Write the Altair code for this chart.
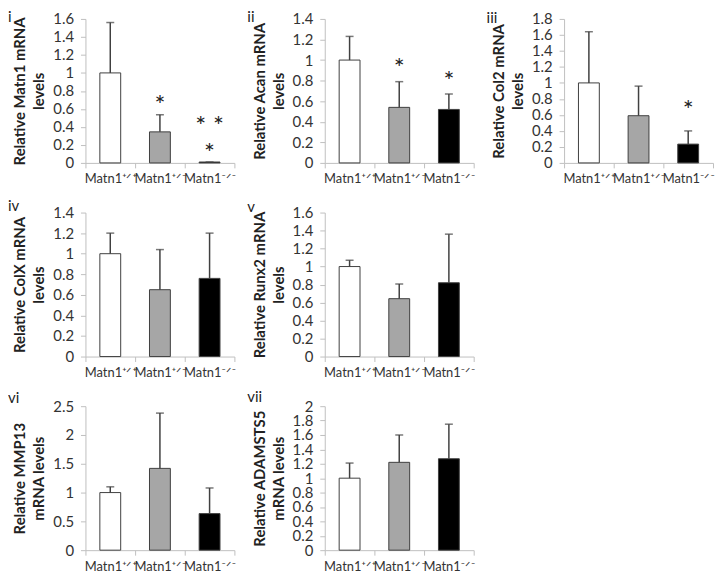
import altair as alt
import pandas as pd

# ---------------- data ----------------
genotypes = ["Matn1\u207a\u141f\u207a", "Matn1\u207a\u141f\u207b", "Matn1\u207b\u141f\u207b"]
bar_colors = ["#ffffff", "#a6a6a6", "#000000"]

panel_ids = ["i", "ii", "iii", "iv", "v", "vi", "vii"]
y_titles = [
    ["Relative Matn1 mRNA", "levels"],
    ["Relative Acan mRNA", "levels"],
    ["Relative Col2 mRNA", "levels"],
    ["Relative ColX mRNA", "levels"],
    ["Relative Runx2 mRNA", "levels"],
    ["Relative MMP13", "mRNA levels"],
    ["Relative ADAMSTS5", "mRNA levels"],
]

matn1_mean = [1.0, 0.345, 0.01]
matn1_err = [0.56, 0.19, 0.0]
acan_mean = [1.0, 0.54, 0.52]
acan_err = [0.23, 0.25, 0.15]
col2_mean = [1.0, 0.59, 0.235]
col2_err = [0.64, 0.37, 0.165]
colx_mean = [1.0, 0.65, 0.76]
colx_err = [0.20, 0.39, 0.44]
runx2_mean = [1.0, 0.643, 0.82]
runx2_err = [0.07, 0.163, 0.54]
mmp13_mean = [1.0, 1.42, 0.635]
mmp13_err = [0.10, 0.96, 0.445]
adamts5_mean = [1.0, 1.22, 1.27]
adamts5_err = [0.21, 0.38, 0.48]

y_max = [1.6, 1.4, 1.8, 1.4, 1.6, 2.5, 2.0]
y_step = [0.2, 0.2, 0.2, 0.2, 0.2, 0.5, 0.2]

# significance marks: (genotype index, value position, text)
stars_i = [(1, 0.70, "*"), (2, 0.47, "* *"), (2, 0.17, "*")]
stars_ii = [(1, 0.97, "*"), (2, 0.84, "*")]
stars_iii = [(2, 0.72, "*")]
stars_none = []

# roman-numeral label placement relative to each panel's plot corner (styling)
label_dx = [-78, -78, -78, -78, -78, -78, -78]
label_dy = [-2, -2, -1, -7, -6, -8, -9]

FONT = "Lato"
AX_COLOR = "#bfbfbf"
DARK = "#404040"


def panel(k, means, errs, stars):
    ymax, ystep = y_max[k], y_step[k]
    df = pd.DataFrame({
        "g": genotypes,
        "val": means,
        "top": [m + e for m, e in zip(means, errs)],
        "color": bar_colors,
    })
    n = int(round(ymax / ystep))
    ticks = [round(j * ystep, 2) for j in range(n + 1)]
    xaxis = alt.Axis(title=None, labelAngle=0, tickBand="extent", tickSize=5,
                     labelPadding=5, labelFontSize=13, labelFont=FONT,
                     labelColor="#333333", domainColor=AX_COLOR, tickColor=AX_COLOR,
                     labelOverlap=False)
    xscale = alt.Scale(paddingInner=0, paddingOuter=0)
    yscale = alt.Scale(domain=[0, ymax], nice=False)
    yaxis = alt.Axis(values=ticks, format=".1~f", title=y_titles[k], grid=False,
                     tickSize=5, labelPadding=7, labelFontSize=15, labelFont=FONT,
                     labelColor="#333333", domainColor=AX_COLOR, tickColor=AX_COLOR,
                     labelOverlap=False, labelSeparation=0, labelBound=False,
                     titleFont=FONT, titleFontSize=15, titleFontWeight="bold",
                     titleColor="#222222", titlePadding=5, titleLineHeight=19,
                     minExtent=34, maxExtent=34)

    def X():
        return alt.X("g:N", sort=genotypes, scale=xscale, axis=xaxis)

    def Y(field):
        return alt.Y(field, type="quantitative", scale=yscale, axis=yaxis, title=y_titles[k])

    base = alt.Chart(df)
    bars = base.mark_bar(width=alt.RelativeBandSize(0.42), stroke=DARK, strokeWidth=1).encode(
        x=X(), y=Y("val"), fill=alt.Fill("color:N", scale=None))
    rule = base.mark_rule(color=DARK, strokeWidth=1.5).encode(
        x=X(), y=Y("val"), y2="top:Q")
    cap = base.mark_tick(color=DARK, size=8, thickness=1.5, orient="horizontal").encode(
        x=X(), y=Y("top"))
    layers = [bars, rule, cap]
    if stars:
        sdf = pd.DataFrame({
            "g": [genotypes[s[0]] for s in stars],
            "pos": [s[1] for s in stars],
            "txt": [s[2] for s in stars],
        })
        txt = alt.Chart(sdf).mark_text(font=FONT, fontSize=26, color="#222222",
                                       baseline="alphabetic", dy=14).encode(
            x=X(), y=Y("pos"), text="txt:N")
        layers.append(txt)
    lab = alt.Chart(pd.DataFrame({"id": [panel_ids[k]]})).mark_text(
        font=FONT, fontSize=15, color="#222222", align="left", baseline="middle").encode(
        text="id:N", x=alt.value(label_dx[k]), y=alt.value(label_dy[k]))
    layers.append(lab)
    return alt.layer(*layers).properties(width=150, height=145)


p1 = panel(0, matn1_mean, matn1_err, stars_i)
p2 = panel(1, acan_mean, acan_err, stars_ii)
p3 = panel(2, col2_mean, col2_err, stars_iii)
p4 = panel(3, colx_mean, colx_err, stars_none)
p5 = panel(4, runx2_mean, runx2_err, stars_none)
p6 = panel(5, mmp13_mean, mmp13_err, stars_none)
p7 = panel(6, adamts5_mean, adamts5_err, stars_none)

blank = alt.Chart(pd.DataFrame({"v": [0]})).mark_point(opacity=0).encode(
    x=alt.X("v:Q", axis=None), y=alt.Y("v:Q", axis=None)).properties(width=150, height=145)

chart = alt.concat(
    p1, p2, p3, p4, p5, blank, p6, p7,
    columns=3, spacing={"row": 50, "column": 91}, bounds="flush",
).properties(
    padding={"left": 0, "top": 0, "right": 0, "bottom": 0}
).configure_view(stroke=None).configure_axis(labelOverlap=False, labelSeparation=0)

chart.save("out.html", embed_options={"renderer": "svg", "actions": False})
